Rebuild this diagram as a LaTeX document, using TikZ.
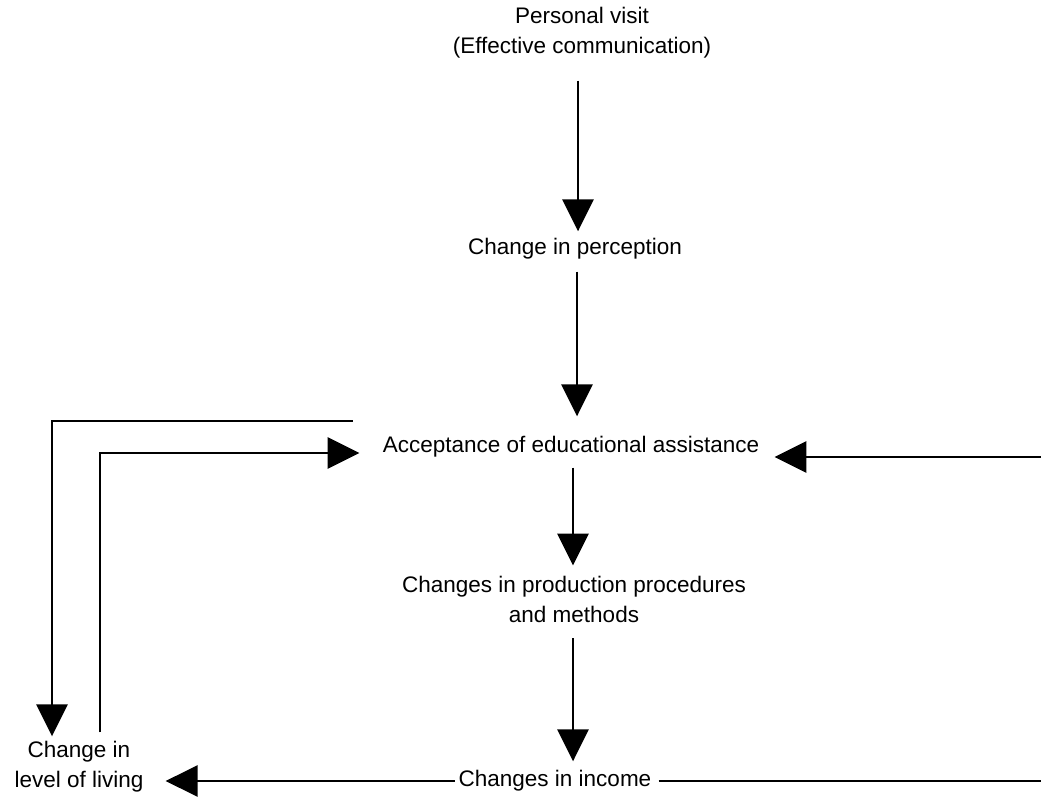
\documentclass[tikz,border=0pt]{standalone}
\usepackage{fontspec}
\setmainfont{Liberation Sans}
\usetikzlibrary{arrows.meta}
\begin{document}
\begin{tikzpicture}[x=1pt,y=-1pt,
  lbl/.style={inner sep=2pt, align=center, font=\fontsize{22.5}{30}\selectfont},
  conn/.style={line width=2.8pt},
  arr/.style={conn, -{Triangle[length=32pt,width=31pt]}}]
\useasboundingbox (0,0) rectangle (1041,802);
\node[lbl] (pv)  at (582,33)  {Personal visit\\(Effective communication)};
\node[lbl] (cp)  at (575,249) {Change in perception};
\node[lbl] (acc) at (571,447) {Acceptance of educational assistance};
\node[lbl] (cpp) at (574,599) {Changes in production procedures\\and methods};
\node[lbl] (inc) at (555,781) {Changes in income};
\node[lbl] (lvl) at (79,767)  {Change in\\level of living};
\coordinate (re) at (1041,457);
\coordinate (rb) at (1041,781);
% main vertical chain
\draw[arr] ([xshift=-4pt,yshift=-20pt]pv.south) -- ([xshift=-4pt,yshift=5pt]pv.south |- cp.north);
\draw[arr] ([xshift=2pt,yshift=-10pt]cp.south) -- ([xshift=2pt,yshift=18pt]cp.south |- acc.north);
\draw[arr] ([xshift=2pt,yshift=-8pt]acc.south) -- ([xshift=2pt,yshift=8pt]acc.south |- cpp.north);
\draw[arr] ([xshift=-1pt,yshift=-14pt]cpp.south) -- ([xshift=-1pt,yshift=7pt]cpp.south |- inc.north);
% left loop
\draw[arr] ([xshift=-28pt,yshift=26pt]acc.west) -| ([xshift=-27pt,yshift=3pt]lvl.north);
\draw[arr] ([xshift=21pt,yshift=7pt]lvl.north) |- ([xshift=-21pt,yshift=-6pt]acc.west);
% right feedback
\draw[arr] (re) -- ([xshift=13pt,yshift=-10pt]acc.east);
% bottom
\draw[arr] ([xshift=-2pt]inc.west) -- ([xshift=20pt]lvl.east |- inc.west);
\draw[conn] ([xshift=5pt]inc.east) -- (rb);
\end{tikzpicture}
\end{document}
